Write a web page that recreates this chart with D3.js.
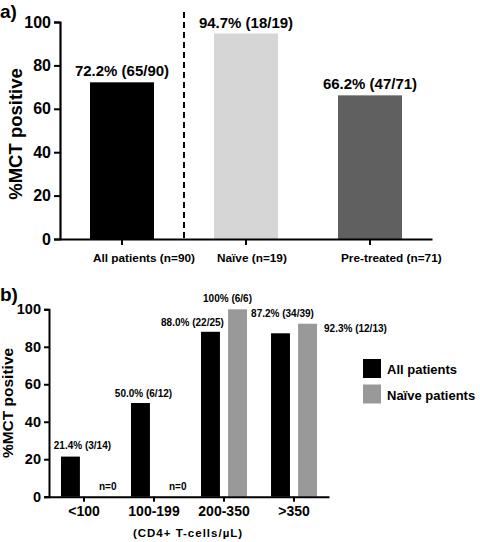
<!DOCTYPE html>
<html><head><meta charset="utf-8">
<script src="https://cdn.jsdelivr.net/npm/d3@7"></script>
<style>body{margin:0;background:#fff}svg{display:block;font-family:"Liberation Sans",Arial,sans-serif;font-weight:bold}</style>
</head><body><svg id="c" width="480" height="542"></svg>
<script>
// ---- Panel a data ----
const catsA = ["All patients (n=90)", "Naïve (n=19)", "Pre-treated (n=71)"];
const valsA = [72.2, 94.7, 66.2];
const labelsA = ["72.2% (65/90)", "94.7% (18/19)", "66.2% (47/71)"];
const colorsA = ["#000000", "#d6d6d6", "#606060"];
const ticksA = [0, 20, 40, 60, 80, 100];

// ---- Panel b data ----
const catsB = ["<100", "100-199", "200-350", ">350"];
const seriesB = ["All patients", "Naïve patients"];
const allB = [21.4, 50.0, 88.0, 87.2];
const naiveB = [0, 0, 100, 92.3];
const labelsAllB = ["21.4% (3/14)", "50.0% (6/12)", "88.0% (22/25)", "87.2% (34/39)"];
const labelsNaiveB = ["n=0", "n=0", "100% (6/6)", "92.3% (12/13)"];
const colorsB = ["#000000", "#999999"];
const ticksB = [0, 20, 40, 60, 80, 100];

const svg = d3.select("#c");

// ================= Panel a =================
{
  const x = d3.scaleBand().domain(catsA).range([60, 432]).paddingInner(0.484).paddingOuter(0.242);
  const y = d3.scaleLinear().domain([0, 100]).range([239, 22]);
  const g = svg.append("g");
  g.selectAll("rect.bar").data(valsA).join("rect")
    .attr("x", (d, i) => x(catsA[i])).attr("width", x.bandwidth())
    .attr("y", d => y(d)).attr("height", d => y(0) - y(d))
    .attr("fill", (d, i) => colorsA[i]);
  g.selectAll("text.val").data(valsA).join("text")
    .attr("x", (d, i) => x(catsA[i]) + x.bandwidth() / 2)
    .attr("y", d => y(d) - 6)
    .attr("text-anchor", "middle").attr("font-size", 15)
    .text((d, i) => labelsA[i]);
  // dashed separator
  const sepX = (x(catsA[0]) + x.bandwidth() + x(catsA[1])) / 2;
  g.append("line").attr("x1", sepX).attr("x2", sepX).attr("y1", 12).attr("y2", y(0))
    .attr("stroke", "#000").attr("stroke-width", 2).attr("stroke-dasharray", "6,4");
  // y axis
  const ya = g.append("g").attr("transform", "translate(60,0)")
    .call(d3.axisLeft(y).tickValues(ticksA).tickSize(6).tickPadding(3));
  ya.select(".domain").attr("stroke-width", 2.2);
  ya.selectAll(".tick line").attr("stroke-width", 2);
  ya.selectAll("text").attr("font-size", 16).attr("font-weight", "bold")
    .attr("font-family", '"Liberation Sans",Arial,sans-serif').attr("fill", "#000");
  // x axis
  const xa = g.append("g").attr("transform", `translate(0,${y(0)})`)
    .call(d3.axisBottom(x).tickSize(6).tickSizeOuter(0));
  xa.select(".domain").attr("stroke-width", 2.2);
  xa.selectAll(".tick line").attr("stroke-width", 2);
  xa.selectAll("text").attr("font-size", 11.8).attr("font-weight", "bold")
    .attr("font-family", '"Liberation Sans",Arial,sans-serif').attr("fill", "#000")
    .attr("text-anchor", "start").attr("x", -29).attr("dy", null).attr("y", 22.5);
  g.append("text").attr("transform", "translate(22,134) rotate(-90)")
    .attr("text-anchor", "middle").attr("font-size", 18.5).text("%MCT positive");
  g.append("text").attr("x", 0).attr("y", 18).attr("font-size", 19).text("a)");
}

// ================= Panel b =================
{
  const x0 = d3.scaleBand().domain(catsB).range([49, 329]).paddingInner(0.343).paddingOuter(0.171);
  const x1 = d3.scaleBand().domain(seriesB).range([0, x0.bandwidth()]).paddingInner(0.3);
  const y = d3.scaleLinear().domain([0, 100]).range([496.7, 309.3]);
  const g = svg.append("g");
  const data = catsB.map((c, i) => ({c, vals: [allB[i], naiveB[i]], labs: [labelsAllB[i], labelsNaiveB[i]]}));
  // label placement (layout): [dx, dy, anchor] per series per category
  const offs = [
    [[12, -8, "middle"], [-8, -7, "start"]],
    [[3, -6, "middle"], [-8, -7, "start"]],
    [[-18, -6, "middle"], [-10, -7, "middle"]],
    [[2, -16, "middle"], [7, 8, "start"]]
  ];
  data.forEach((d, i) => {
    d.vals.forEach((v, j) => {
      const bx = x0(d.c) + x1(seriesB[j]);
      if (v > 0) {
        g.append("rect").attr("x", bx).attr("width", x1.bandwidth())
          .attr("y", y(v)).attr("height", y(0) - y(v)).attr("fill", colorsB[j]);
      }
      const o = offs[i][j];
      const ax = o[2] === "middle" ? bx + x1.bandwidth() / 2 : bx + x1.bandwidth();
      g.append("text").attr("x", ax + o[0]).attr("y", y(v) + o[1])
        .attr("text-anchor", o[2]).attr("font-size", 10).text(d.labs[j]);
    });
  });
  const ya = g.append("g").attr("transform", "translate(49,0)")
    .call(d3.axisLeft(y).tickValues(ticksB).tickSize(5).tickPadding(3));
  ya.select(".domain").attr("stroke-width", 2);
  ya.selectAll(".tick line").attr("stroke-width", 2);
  ya.selectAll("text").attr("font-size", 14.5).attr("font-weight", "bold")
    .attr("font-family", '"Liberation Sans",Arial,sans-serif').attr("fill", "#000");
  const xa = g.append("g").attr("transform", `translate(0,${y(0)})`)
    .call(d3.axisBottom(x0).tickSize(5).tickSizeOuter(0));
  xa.select(".domain").attr("stroke-width", 2);
  xa.selectAll(".tick line").attr("stroke-width", 2);
  xa.selectAll("text").attr("font-size", 14).attr("font-weight", "bold")
    .attr("font-family", '"Liberation Sans",Arial,sans-serif').attr("fill", "#000")
    .attr("dy", null).attr("y", 19);
  g.append("text").attr("x", 188).attr("y", 537).attr("text-anchor", "middle")
    .attr("font-size", 11.5).attr("letter-spacing", 1).text("(CD4+ T-cells/µL)");
  g.append("text").attr("transform", "translate(13,403) rotate(-90)")
    .attr("text-anchor", "middle").attr("font-size", 15.5).text("%MCT positive");
  g.append("text").attr("x", 0).attr("y", 301).attr("font-size", 19).text("b)");
  // legend
  const lg = g.append("g");
  seriesB.forEach((s, j) => {
    lg.append("rect").attr("x", 363).attr("y", 359 + j * 25.5).attr("width", 18).attr("height", 19)
      .attr("fill", colorsB[j]);
    lg.append("text").attr("x", 387).attr("y", 374 + j * 25.5).attr("font-size", 13)
      .text(s);
  });
}
</script></body></html>
